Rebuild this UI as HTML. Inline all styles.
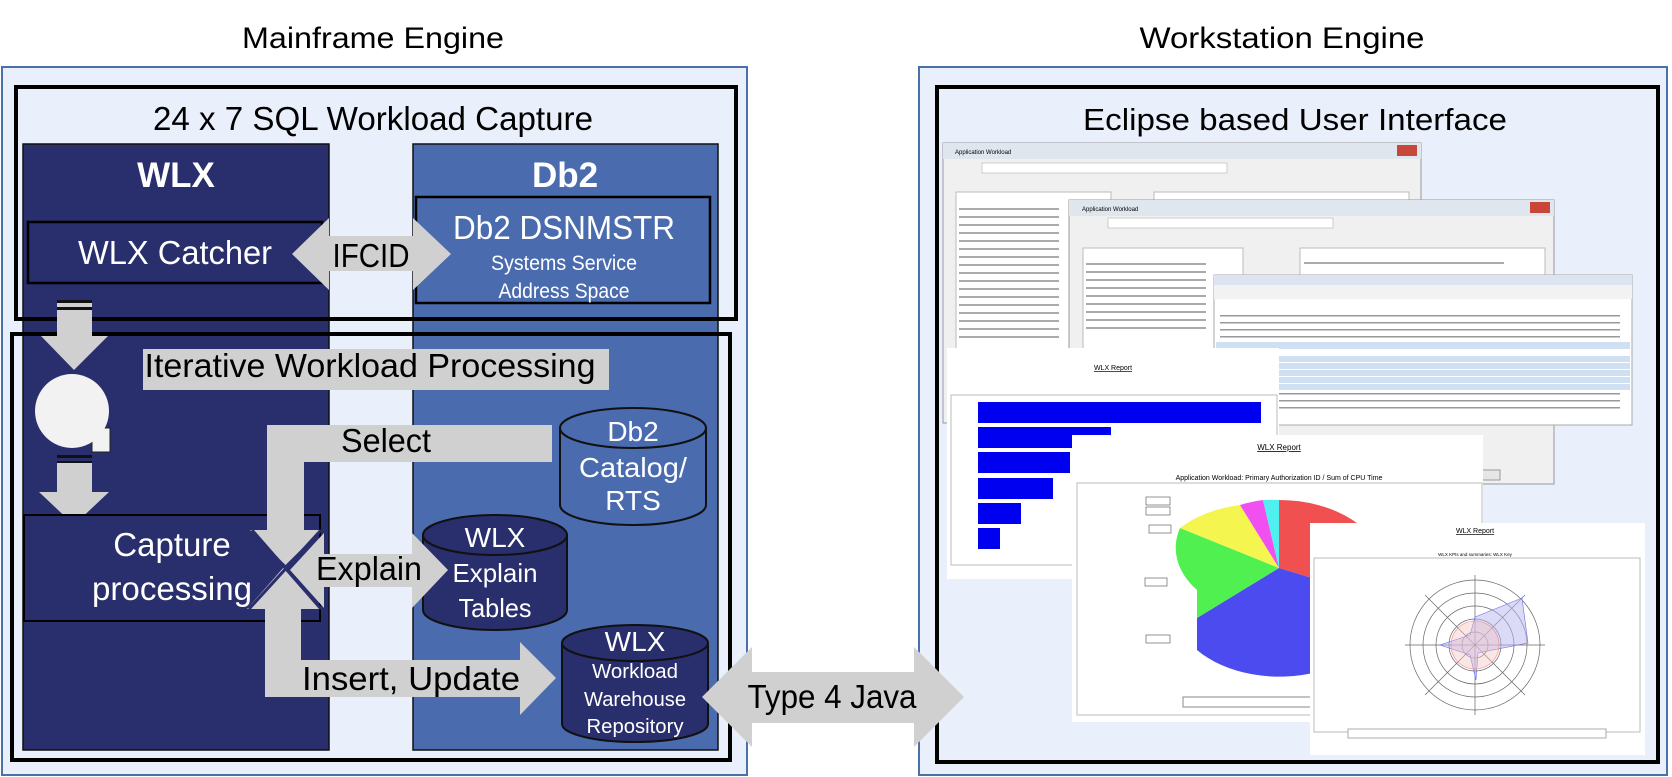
<!DOCTYPE html>
<html><head><meta charset="utf-8"><style>
html,body{margin:0;padding:0;background:#fff;}
svg{display:block;font-family:"Liberation Sans",sans-serif;}
</style></head><body>
<svg width="1672" height="777" viewBox="0 0 1672 777" xmlns="http://www.w3.org/2000/svg">
<!-- titles -->
<text x="373" y="48" font-size="30" text-anchor="middle" textLength="262" lengthAdjust="spacingAndGlyphs">Mainframe Engine</text>
<text x="1282" y="48" font-size="30" text-anchor="middle" textLength="285" lengthAdjust="spacingAndGlyphs">Workstation Engine</text>

<!-- left panel -->
<rect x="2" y="67" width="745" height="708" fill="#e9effb" stroke="#4a72a8" stroke-width="2"/>
<rect x="16" y="87" width="720" height="232" fill="none" stroke="#000" stroke-width="4"/>
<text x="373" y="130" font-size="33" text-anchor="middle" textLength="440" lengthAdjust="spacingAndGlyphs">24 x 7 SQL Workload Capture</text>
<rect x="23" y="144" width="306" height="606" fill="#292e6c" stroke="#111" stroke-width="1.5"/>
<rect x="413" y="144" width="305" height="606" fill="#4a6bae" stroke="#111" stroke-width="1.5"/>
<rect x="16" y="87" width="720" height="232" fill="none" stroke="#000" stroke-width="4"/>
<rect x="12" y="334" width="718" height="426" fill="none" stroke="#000" stroke-width="4"/>
<text x="176" y="187" font-size="35" font-weight="bold" fill="#fff" text-anchor="middle">WLX</text>
<text x="565" y="187" font-size="35" font-weight="bold" fill="#fff" text-anchor="middle">Db2</text>
<rect x="28" y="222" width="294" height="61" fill="#292e6c" stroke="#000" stroke-width="2.5"/>
<text x="175" y="264" font-size="33" fill="#fff" text-anchor="middle" textLength="194" lengthAdjust="spacingAndGlyphs">WLX Catcher</text>
<rect x="416" y="197" width="294" height="106" fill="#4a6bae" stroke="#000" stroke-width="2.5"/>
<text x="564" y="239" font-size="33" fill="#fff" text-anchor="middle" textLength="222" lengthAdjust="spacingAndGlyphs">Db2 DSNMSTR</text>
<text x="564" y="270" font-size="21" fill="#fff" text-anchor="middle" textLength="146" lengthAdjust="spacingAndGlyphs">Systems Service</text>
<text x="564" y="298" font-size="21" fill="#fff" text-anchor="middle" textLength="131" lengthAdjust="spacingAndGlyphs">Address Space</text>
<!-- IFCID arrow -->
<path d="M292,254 L329,218 L329,236 L413,236 L413,218 L451,254 L413,290 L413,271 L329,271 L329,290 Z" fill="#d0d0d0"/>
<text x="371" y="267" font-size="33" text-anchor="middle" textLength="77" lengthAdjust="spacingAndGlyphs">IFCID</text>
<!-- down arrow 1 -->
<path d="M57,301 L92,301 L92,336 L108,336 L74,370 L41,336 L57,336 Z" fill="#d0d0d0"/>
<rect x="57" y="300" width="35" height="3" fill="#111"/><rect x="57" y="307" width="35" height="3" fill="#111"/>
<!-- iterative label -->
<rect x="143" y="349" width="466" height="41" fill="#d0d0d0"/>
<text x="370" y="377" font-size="33" text-anchor="middle" textLength="451" lengthAdjust="spacingAndGlyphs">Iterative Workload Processing</text>
<!-- loop circle -->
<rect x="92" y="428" width="18" height="24" fill="#f2f2f2" stroke="#222" stroke-width="1"/>
<circle cx="72" cy="411" r="37" fill="#f2f2f2"/>
<!-- down arrow 2 -->
<path d="M57,462 L92,462 L92,492 L109,492 L74,525 L39,492 L57,492 Z" fill="#d0d0d0"/>
<rect x="57" y="455" width="35" height="3" fill="#111"/><rect x="57" y="461" width="35" height="2" fill="#111"/>
<!-- capture box -->
<rect x="24" y="515" width="296" height="106" fill="#292e6c" stroke="#000" stroke-width="2"/>
<text x="172" y="556" font-size="33" fill="#fff" text-anchor="middle">Capture</text>
<text x="172" y="600" font-size="33" fill="#fff" text-anchor="middle" textLength="160" lengthAdjust="spacingAndGlyphs">processing</text>
<!-- cylinders -->
<g stroke="#111" stroke-width="2">
<path d="M560,428 L560,505 A73,20 0 0 0 706,505 L706,428" fill="#4a6bae"/>
<ellipse cx="633" cy="428" rx="73" ry="20" fill="#4a6bae"/>
<path d="M423,535 L423,610 A72,20 0 0 0 567,610 L567,535" fill="#292e6c"/>
<ellipse cx="495" cy="535" rx="72" ry="20" fill="#292e6c"/>
<path d="M562,643 L562,724 A73,18 0 0 0 708,724 L708,643" fill="#292e6c"/>
<ellipse cx="635" cy="643" rx="73" ry="18" fill="#292e6c"/>
</g>
<g fill="#fff" text-anchor="middle">
<text x="633" y="441" font-size="28">Db2</text>
<text x="633" y="477" font-size="28" textLength="108" lengthAdjust="spacingAndGlyphs">Catalog/</text>
<text x="633" y="510" font-size="28">RTS</text>
<text x="495" y="547" font-size="28">WLX</text>
<text x="495" y="582" font-size="26" textLength="85" lengthAdjust="spacingAndGlyphs">Explain</text>
<text x="495" y="617" font-size="26" textLength="73" lengthAdjust="spacingAndGlyphs">Tables</text>
<text x="635" y="651" font-size="28">WLX</text>
<text x="635" y="678" font-size="20" textLength="86" lengthAdjust="spacingAndGlyphs">Workload</text>
<text x="635" y="706" font-size="20" textLength="102" lengthAdjust="spacingAndGlyphs">Warehouse</text>
<text x="635" y="733" font-size="20" textLength="97" lengthAdjust="spacingAndGlyphs">Repository</text>
</g>
<!-- select arrow -->
<path d="M552,425 L267,425 L267,530 L250,530 L285.5,565 L321,530 L304,530 L304,462 L552,462 Z" fill="#d0d0d0"/>
<text x="386" y="452" font-size="33" text-anchor="middle" textLength="90" lengthAdjust="spacingAndGlyphs">Select</text>
<!-- insert arrow -->
<path d="M284,567 L321,609 L301,609 L301,660 L520,660 L520,642 L556,678 L520,715 L520,697 L265,697 L265,609 L247,609 Z" fill="#d0d0d0"/>
<text x="411" y="690" font-size="33" text-anchor="middle" textLength="218" lengthAdjust="spacingAndGlyphs">Insert, Update</text>
<!-- explain arrow -->
<path d="M290,570 L324,533 L324,554 L412,554 L412,533 L448,570 L412,608 L412,587 L324,587 L324,608 Z" fill="#d0d0d0"/>
<path d="M252,530 L321,609 M321,530 L249,609" stroke="#292e6c" stroke-width="3"/>
<text x="369" y="580" font-size="33" text-anchor="middle" textLength="106" lengthAdjust="spacingAndGlyphs">Explain</text>

<!-- right panel -->
<rect x="919" y="67" width="748" height="708" fill="#e9effb" stroke="#4a72a8" stroke-width="2"/>
<rect x="937" y="87" width="721" height="675" fill="none" stroke="#000" stroke-width="4"/>
<text x="1295" y="130" font-size="31" text-anchor="middle" textLength="424" lengthAdjust="spacingAndGlyphs">Eclipse based User Interface</text>

<!-- type 4 arrow -->
<path d="M702,697 L752,647 L752,672 L914,672 L914,647 L964,697 L914,747 L914,723 L752,723 L752,747 Z" fill="#d0d0d0"/>
<text x="832" y="708" font-size="33" text-anchor="middle" textLength="169" lengthAdjust="spacingAndGlyphs">Type 4 Java</text>

<!-- window 1 -->
<rect x="943" y="143" width="478" height="280" fill="#f0f0f0" stroke="#999"/>
<rect x="943" y="143" width="478" height="16" fill="#dfe6ee"/>
<rect x="1397" y="145" width="20" height="11" fill="#c8463a"/>
<text x="955" y="154" font-size="6">Application Workload</text>
<rect x="982" y="163" width="245" height="10" fill="#fff" stroke="#ccc"/>
<rect x="956" y="192" width="155" height="230" fill="#fff" stroke="#bbb"/>
<rect x="1154" y="192" width="255" height="12" fill="#fff" stroke="#bbb"/>
<g fill="#aaa">
<rect x="959" y="208" width="100" height="2"/><rect x="959" y="216" width="100" height="2"/><rect x="959" y="224" width="100" height="2"/><rect x="959" y="232" width="100" height="2"/><rect x="959" y="240" width="100" height="2"/><rect x="959" y="248" width="100" height="2"/><rect x="959" y="256" width="100" height="2"/><rect x="959" y="264" width="100" height="2"/><rect x="959" y="272" width="100" height="2"/><rect x="959" y="280" width="100" height="2"/><rect x="959" y="288" width="100" height="2"/><rect x="959" y="296" width="100" height="2"/><rect x="959" y="304" width="100" height="2"/><rect x="959" y="312" width="100" height="2"/><rect x="959" y="320" width="100" height="2"/><rect x="959" y="328" width="100" height="2"/><rect x="959" y="336" width="100" height="2"/>
</g>
<!-- window 2 -->
<rect x="1069" y="200" width="485" height="284" fill="#f0f0f0" stroke="#999"/>
<rect x="1069" y="200" width="485" height="16" fill="#dfe6ee"/>
<rect x="1530" y="202" width="20" height="11" fill="#c8463a"/>
<text x="1082" y="211" font-size="6">Application Workload</text>
<rect x="1108" y="218" width="225" height="10" fill="#fff" stroke="#ccc"/>
<rect x="1083" y="248" width="160" height="180" fill="#fff" stroke="#bbb"/>
<rect x="1300" y="248" width="245" height="30" fill="#fff" stroke="#bbb"/>
<g fill="#aaa">
<rect x="1086" y="263" width="120" height="2"/><rect x="1086" y="271" width="120" height="2"/><rect x="1086" y="279" width="120" height="2"/><rect x="1086" y="287" width="120" height="2"/><rect x="1086" y="295" width="120" height="2"/><rect x="1086" y="303" width="120" height="2"/><rect x="1086" y="311" width="120" height="2"/><rect x="1086" y="319" width="120" height="2"/><rect x="1086" y="327" width="120" height="2"/>
<rect x="1304" y="262" width="200" height="2"/>
</g>
<rect x="1470" y="470" width="30" height="10" fill="#e6e6e6" stroke="#999"/>
<!-- window 3 table -->
<rect x="1214" y="275" width="418" height="150" fill="#fff" stroke="#aaa"/>
<rect x="1214" y="275" width="418" height="10" fill="#dbe4f0"/>
<rect x="1214" y="285" width="418" height="14" fill="#f2f2f2"/>
<rect x="1216" y="342" width="414" height="7" fill="#cfe0f3"/>
<rect x="1216" y="356" width="414" height="6" fill="#cfe0f3"/><rect x="1216" y="363" width="414" height="6" fill="#cfe0f3"/><rect x="1216" y="370" width="414" height="6" fill="#cfe0f3"/><rect x="1216" y="377" width="414" height="6" fill="#cfe0f3"/><rect x="1216" y="384" width="414" height="6" fill="#cfe0f3"/>
<g fill="#999"><rect x="1220" y="315" width="400" height="1.5"/><rect x="1220" y="322" width="400" height="1.5"/><rect x="1220" y="329" width="400" height="1.5"/><rect x="1220" y="336" width="400" height="1.5"/><rect x="1220" y="393" width="400" height="1.5"/><rect x="1220" y="400" width="400" height="1.5"/><rect x="1220" y="407" width="400" height="1.5"/></g>
<!-- bar report -->
<rect x="947" y="348" width="332" height="231" fill="#fff"/>
<text x="1113" y="370" font-size="7" text-anchor="middle" text-decoration="underline">WLX Report</text>
<rect x="951" y="395" width="326" height="170" fill="#fff" stroke="#bbb"/>
<g fill="#0000f0">
<rect x="978" y="402" width="283" height="21"/><rect x="978" y="427" width="133" height="21"/><rect x="978" y="452" width="92" height="21"/><rect x="978" y="478" width="75" height="21"/><rect x="978" y="503" width="43" height="21"/><rect x="978" y="528" width="22" height="21"/>
</g>
<!-- pie report -->
<rect x="1072" y="435" width="411" height="287" fill="#fff"/>
<text x="1279" y="450" font-size="8" text-anchor="middle" text-decoration="underline">WLX Report</text>
<text x="1279" y="480" font-size="7" text-anchor="middle">Application Workload: Primary Authorization ID / Sum of CPU Time</text>
<rect x="1077" y="483" width="405" height="232" fill="none" stroke="#bbb"/>
<g>
<path d="M1279,568 L1279,500 A105,70 0 0 1 1384,568 L1384,600 Z" fill="#f05050"/>
<path d="M1279,568 L1384,600 A105,70 0 0 1 1197,650 L1197,618 Z" fill="#4b4bef"/>
<path d="M1279,568 L1197,618 L1197,590 A105,70 0 0 1 1180,528 Z" fill="#50f050"/>
<path d="M1279,568 L1180,528 A105,70 0 0 1 1240,505 Z" fill="#f5f550"/>
<path d="M1279,568 L1240,505 A105,70 0 0 1 1263,500 Z" fill="#f050f0"/>
<path d="M1279,568 L1263,500 A105,70 0 0 1 1279,500 Z" fill="#50f0f0"/>
</g>
<g fill="#fff" stroke="#666" stroke-width="0.7"><rect x="1146" y="497" width="24" height="8"/><rect x="1146" y="507" width="24" height="8"/><rect x="1149" y="525" width="22" height="8"/><rect x="1145" y="578" width="22" height="8"/><rect x="1146" y="635" width="24" height="8"/></g>
<rect x="1183" y="697" width="130" height="10" fill="#fff" stroke="#888"/>
<!-- radar report -->
<rect x="1310" y="523" width="335" height="232" fill="#fff"/>
<text x="1475" y="533" font-size="7" text-anchor="middle" text-decoration="underline">WLX Report</text>
<text x="1475" y="556" font-size="4.5" text-anchor="middle">WLX KPIs and summaries: WLX Key</text>
<rect x="1314" y="558" width="326" height="174" fill="none" stroke="#bbb"/>
<g fill="none" stroke="#666" stroke-width="0.7">
<circle cx="1475" cy="645" r="65"/><circle cx="1475" cy="645" r="52"/><circle cx="1475" cy="645" r="39"/><circle cx="1475" cy="645" r="26"/><circle cx="1475" cy="645" r="13"/>
<path d="M1475,575 L1475,715 M1405,645 L1545,645 M1425,595 L1525,695 M1525,595 L1425,695"/>
</g>
<path d="M1475,617 L1522,598 L1528,643 L1478,653 L1476,680 L1470,655 L1440,645 L1470,635 Z" fill="#b8b8f0" fill-opacity="0.5" stroke="#6b6bef" stroke-width="0.6"/>
<circle cx="1475" cy="645" r="24" fill="#f4c0c0" fill-opacity="0.4" stroke="#e88" stroke-width="0.6"/>
<rect x="1348" y="729" width="258" height="9" fill="#fff" stroke="#888" stroke-width="0.7"/>
</svg>
</body></html>
